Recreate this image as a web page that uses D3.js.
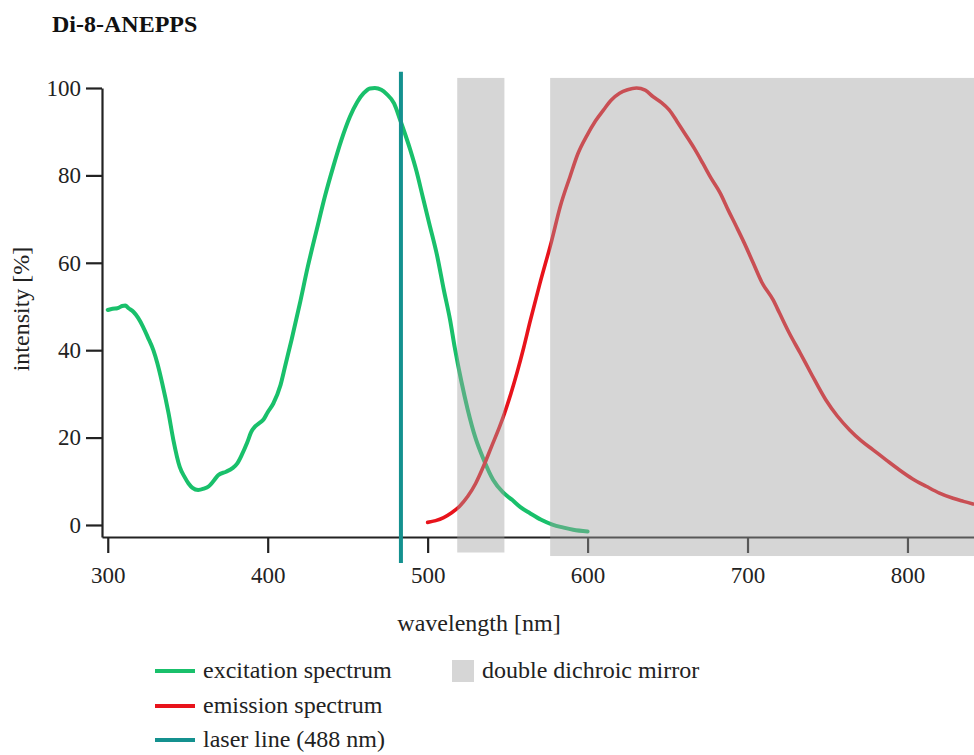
<!DOCTYPE html>
<html>
<head>
<meta charset="utf-8">
<script src="https://cdn.jsdelivr.net/npm/d3@7"></script>
<style>
  html, body { margin: 0; padding: 0; background: #fff; }
  svg, svg text { font-family: "Liberation Serif", "Times New Roman", serif !important; }
</style>
</head>
<body>
<svg id="chart" width="974" height="755"></svg>
<script>
// excitation spectrum (nm, % intensity)
const excitationNm = [300, 303, 306, 309, 311, 313, 316, 319, 322, 325, 328.5, 331, 334, 338, 341, 345, 348, 350.5, 353, 356.5,
  360, 363, 366, 369, 374, 378, 381, 384, 387, 390, 392, 395, 397.5, 400, 403.5, 408, 411, 415, 420, 425,
  430.6, 436, 441, 446, 451.4, 456, 460, 464, 467, 471, 474.4, 479, 483, 489, 493, 497, 501, 506, 510, 514,
  517, 521, 525, 530, 535, 541, 547, 553, 558, 564, 571, 578, 585, 591, 600];
const excitationPct = [49.2, 49.5, 49.6, 50.1, 50.2, 49.6, 48.8, 47.4, 45.4, 43, 40, 37, 32.5, 25.6, 19.5, 13.3, 11, 9.5, 8.5, 8,
  8.3, 8.8, 10, 11.4, 12.2, 13, 14.1, 16.2, 18.7, 21.5, 22.5, 23.4, 24.2, 25.8, 27.8, 32, 36.5, 42.5, 50.5, 59,
  67.5, 75.5, 82, 88, 93.4, 96.8, 98.8, 99.9, 100, 99.6, 98.6, 96.5, 92.5, 86, 81, 75, 69, 61.5, 54, 47,
  40.5, 33, 26.5, 19.8, 15, 10.3, 7.5, 5.7, 4.1, 2.7, 1.2, 0.1, -0.6, -1.1, -1.5];

// emission spectrum (nm, % intensity)
const emissionNm = [500, 505, 510, 515, 520, 525, 530, 535, 540, 545, 548, 552, 556, 560, 564, 570, 577.5, 583, 589, 594,
  599.4, 605, 610, 615, 620, 625, 630.6, 636, 641, 646, 651, 656, 662, 667, 672, 677, 683, 688, 693, 698,
  703.5, 709, 716, 720, 726, 733, 740, 749, 756, 764, 771, 778.5, 787, 795, 803, 812, 820, 828.5, 835, 841];
const emissionPct = [0.6, 1.0, 1.7, 2.8, 4.3, 6.5, 9.5, 13.5, 18, 22.5, 25.5, 30, 35, 40.5, 46.5, 55, 65, 73, 79.7, 85,
  89, 92.5, 95, 97.3, 98.8, 99.6, 100, 99.5, 98, 96.7, 95, 92.3, 88.9, 86, 82.8, 79.5, 75.9, 72, 68.3, 64.5,
  60, 55.5, 51.5, 48.5, 44, 39.3, 34.5, 28.6, 25, 21.7, 19.3, 17.2, 14.8, 12.6, 10.6, 8.8, 7.3, 6.1, 5.4, 4.8];

// double dichroic mirror bands: [from nm, to nm, top %, bottom %]
const mirrorBands = [[518.5, 548, 102.3, -6.3], [576.6, 842, 102.3, -7.1]];

// laser line position (nm) and its vertical extent (%)
const laserNm = 483.3;
const laserSpan = [103.7, -8.7];

const xTicks = [300, 400, 500, 600, 700, 800];
const yTicks = [0, 20, 40, 60, 80, 100];

const legendItems = [
  { label: "excitation spectrum", color: "#19c06b" },
  { label: "emission spectrum", color: "#e8131b" },
  { label: "laser line (488 nm)", color: "#14918f" }
];

const serif = "'Liberation Serif', 'Times New Roman', serif";
const svg = d3.select("#chart");

const x = d3.scaleLinear().domain([296.4, 841.6]).range([102, 974]);
const y = d3.scaleLinear().domain([-2.75, 100]).range([537, 88]);

// title
svg.append("text")
  .attr("x", 52)
  .attr("y", 32)
  .style("font-family", serif)
  .style("font-size", "24px")
  .style("font-weight", "bold")
  .attr("fill", "#111")
  .text("Di-8-ANEPPS");

// axes
const xAxis = svg.append("g")
  .attr("transform", "translate(0,537)")
  .call(d3.axisBottom(x).tickValues(xTicks).tickSize(16).tickSizeOuter(0).tickPadding(14).tickFormat(d3.format("d")));

const yAxis = svg.append("g")
  .attr("transform", "translate(102,0)")
  .call(d3.axisLeft(y).tickValues(yTicks).tickSize(16).tickSizeOuter(0).tickPadding(5).tickFormat(d3.format("d")));

[xAxis, yAxis].forEach(g => {
  g.attr("font-family", null).attr("font-size", null);
  g.select(".domain").attr("stroke", "#222").attr("stroke-width", 2.2);
  g.selectAll(".tick line").attr("stroke", "#222").attr("stroke-width", 2.2);
  g.selectAll(".tick text")
    .style("font-family", serif)
    .style("font-size", "23px")
    .attr("fill", "#222");
});

// axis labels
svg.append("text")
  .attr("x", 479)
  .attr("y", 631)
  .attr("text-anchor", "middle")
  .style("font-family", serif)
  .style("font-size", "24px")
  .attr("fill", "#222")
  .text("wavelength [nm]");

svg.append("text")
  .attr("transform", "translate(29,309) rotate(-90)")
  .attr("text-anchor", "middle")
  .style("font-family", serif)
  .style("font-size", "24px")
  .attr("fill", "#222")
  .text("intensity [%]");

// spectra
const line = d3.line()
  .x(d => x(d[0]))
  .y(d => y(d[1]))
  .curve(d3.curveMonotoneX);

svg.append("path")
  .datum(excitationNm.map((nm, i) => [nm, excitationPct[i]]))
  .attr("d", line)
  .attr("fill", "none")
  .attr("stroke", legendItems[0].color)
  .attr("stroke-width", 4)
  .attr("stroke-linejoin", "round")
  .attr("stroke-linecap", "round");

svg.append("path")
  .datum(emissionNm.map((nm, i) => [nm, emissionPct[i]]))
  .attr("d", line)
  .attr("fill", "none")
  .attr("stroke", legendItems[1].color)
  .attr("stroke-width", 3.6)
  .attr("stroke-linejoin", "round")
  .attr("stroke-linecap", "round");

// laser line
svg.append("line")
  .attr("x1", x(laserNm))
  .attr("x2", x(laserNm))
  .attr("y1", y(laserSpan[0]))
  .attr("y2", y(laserSpan[1]))
  .attr("stroke", legendItems[2].color)
  .attr("stroke-width", 4);

// mirror bands sit on top, half transparent
svg.selectAll("rect.band")
  .data(mirrorBands)
  .enter()
  .append("rect")
  .attr("class", "band")
  .attr("x", d => x(d[0]))
  .attr("width", d => x(d[1]) - x(d[0]))
  .attr("y", d => y(d[2]))
  .attr("height", d => y(d[3]) - y(d[2]))
  .attr("fill", "#a0a0a0")
  .attr("fill-opacity", 0.43);

// legend
const legendRows = [671, 706, 740];
const legend = svg.append("g");

legend.selectAll("line")
  .data(legendItems)
  .enter()
  .append("line")
  .attr("x1", 155)
  .attr("x2", 195)
  .attr("y1", (d, i) => legendRows[i])
  .attr("y2", (d, i) => legendRows[i])
  .attr("stroke", d => d.color)
  .attr("stroke-width", 4);

legend.selectAll("text")
  .data(legendItems)
  .enter()
  .append("text")
  .attr("x", 203)
  .attr("y", (d, i) => legendRows[i] + 7)
  .style("font-family", serif)
  .style("font-size", "24px")
  .attr("fill", "#222")
  .text(d => d.label);

legend.append("rect")
  .attr("x", 452)
  .attr("y", 660)
  .attr("width", 22)
  .attr("height", 22)
  .attr("fill", "#a0a0a0")
  .attr("fill-opacity", 0.43);

legend.append("text")
  .attr("x", 482)
  .attr("y", 678)
  .style("font-family", serif)
  .style("font-size", "24px")
  .attr("fill", "#222")
  .text("double dichroic mirror");
</script>
</body>
</html>
